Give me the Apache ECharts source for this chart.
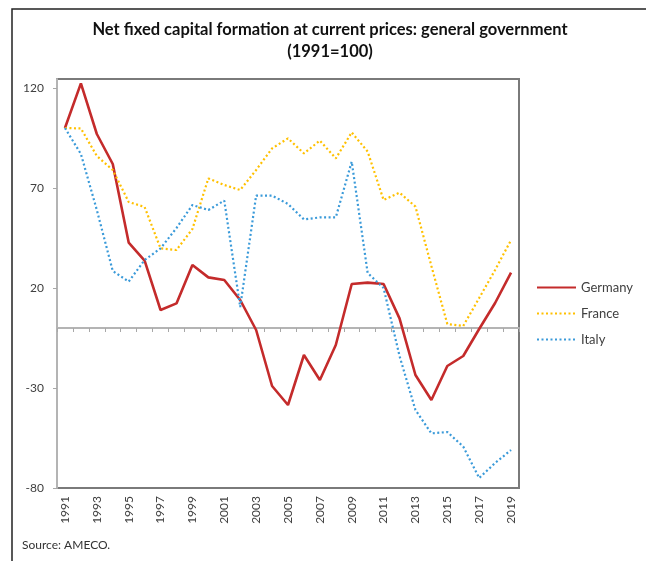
<!DOCTYPE html>
<html>
<head>
    <meta charset="utf-8">
    <title>Net fixed capital formation at current prices: general government</title>
    <script src="https://cdn.jsdelivr.net/npm/echarts@6/dist/echarts.min.js"></script>
    <style>
        html, body { margin: 0; padding: 0; background: #fff; }
        #chart { width: 646px; height: 561px; }
    </style>
</head>
<body>
<div id="chart"></div>
<script>
    // years on the x axis
    var years = ['1991', '1992', '1993', '1994', '1995', '1996', '1997', '1998', '1999', '2000',
        '2001', '2002', '2003', '2004', '2005', '2006', '2007', '2008', '2009', '2010',
        '2011', '2012', '2013', '2014', '2015', '2016', '2017', '2018', '2019'];

    // index values, 1991 = 100
    var germany = [100, 122.3, 97, 82, 42.7, 33.7, 9, 12.3, 31.5, 25.3,
        24, 14, -1, -29, -38.5, -13.5, -26, -8.5, 22, 22.7,
        22, 4.8, -23.5, -36, -19, -14, -0.5, 12.5, 27.7];
    var france = [100, 99.8, 86, 79, 63, 60.5, 39.8, 39, 49.5, 74.8,
        71.5, 69, 79, 89.8, 94.8, 87.3, 93.7, 84.8, 97.8, 88.2,
        64, 67.7, 60.7, 31, 2, 1, 15, 29, 44];
    var italy = [100, 87, 59, 28.5, 23.2, 34, 39.8, 50, 61.5, 59,
        63.7, 10.5, 66.2, 66.2, 62, 54.3, 55.3, 55.3, 83.2, 27.5,
        20, -14, -41, -52.7, -52, -59.3, -75, -67.5, -61];

    var yTicks = [-80, -30, 20, 70, 120];

    var chart = echarts.init(document.getElementById('chart'));
    var font = 'Lato, "Liberation Sans", sans-serif';

    var option = {
        backgroundColor: '#fff',
        animation: false,
        title: {
            text: 'Net fixed capital formation at current prices: general government\n(1991=100)',
            left: 330,
            top: 19,
            padding: 0,
            textAlign: 'center',
            textStyle: {
                fontFamily: font,
                fontWeight: 'bold',
                fontSize: 16.5,
                lineHeight: 22,
                color: '#111'
            }
        },
        graphic: [
            {
                type: 'rect',
                shape: { x: 12, y: 9, width: 1000, height: 1000 },
                style: { fill: 'none', stroke: '#222', lineWidth: 1.5 },
                silent: true
            },
            {
                type: 'text',
                left: 22,
                top: 539,
                style: { text: 'Source: AMECO.', font: '12px ' + font, fill: '#333' }
            }
        ],
        legend: {
            orient: 'vertical',
            left: 536,
            top: 281,
            padding: 0,
            itemWidth: 39,
            itemHeight: 14,
            itemGap: 13,
            itemStyle: { opacity: 0 },
            textStyle: { fontFamily: font, fontSize: 13, color: '#404040' },
            data: ['Germany', 'France', 'Italy']
        },
        grid: {
            left: 57,
            top: 79,
            right: 127,
            bottom: 73,
            show: true,
            borderColor: '#7a7a7a',
            borderWidth: 2,
            containLabel: false
        },
        xAxis: [
            {
                type: 'category',
                data: years,
                boundaryGap: true,
                axisLine: { onZero: true, lineStyle: { color: '#b4b4b4', width: 2 } },
                axisTick: { show: true, interval: 0, length: 4, lineStyle: { color: '#a8a8a8' } },
                axisLabel: { show: false },
                splitLine: { show: false }
            },
            {
                type: 'category',
                data: years,
                position: 'bottom',
                boundaryGap: true,
                axisLine: { show: false, onZero: false },
                axisTick: { show: false },
                axisLabel: {
                    interval: 1,
                    rotate: 90,
                    margin: 8,
                    fontFamily: font,
                    fontSize: 12,
                    color: '#404040'
                },
                splitLine: { show: false }
            }
        ],
        yAxis: {
            type: 'value',
            min: -80,
            max: 124.5,
            axisLine: { show: true, lineStyle: { color: '#b4b4b4', width: 2 } },
            axisTick: { show: true, length: 4, customValues: yTicks, lineStyle: { color: '#a8a8a8' } },
            axisLabel: {
                customValues: yTicks,
                margin: 13,
                fontFamily: font,
                fontSize: 12,
                color: '#404040'
            },
            splitLine: { show: false }
        },
        series: [
            {
                name: 'Germany',
                type: 'line',
                data: germany,
                symbol: 'none',
                lineStyle: { color: '#C42B2B', width: 2.6 },
                itemStyle: { color: '#C42B2B' }
            },
            {
                name: 'France',
                type: 'line',
                data: france,
                symbol: 'none',
                lineStyle: { color: '#FFC000', width: 2.2, type: [2, 2.5] },
                itemStyle: { color: '#FFC000' }
            },
            {
                name: 'Italy',
                type: 'line',
                data: italy,
                symbol: 'none',
                lineStyle: { color: '#3A9AD9', width: 2.2, type: [2, 2.5] },
                itemStyle: { color: '#3A9AD9' }
            }
        ]
    };

    chart.setOption(option);
</script>
</body>
</html>
